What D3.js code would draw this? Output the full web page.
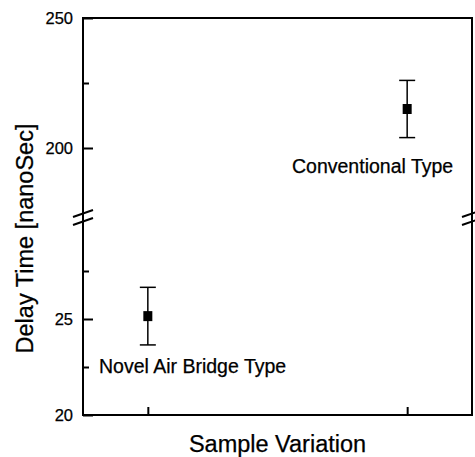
<!DOCTYPE html>
<html lang="en">
<head>
    <meta charset="utf8">
    <title>Delay Time</title>
    <script src="https://d3js.org/d3.v7.min.js"></script>
    <style>
        body { margin: 0; background: #fff; }
        svg { display: block; font-family: "Liberation Sans", Arial, sans-serif; }
        text { stroke: #000; stroke-width: 0.25px; }
    </style>
</head>
<body>
    <svg id="chart" width="475" height="457"></svg>
    <script>
        // data
        const samples = ["Novel Air Bridge Type", "Conventional Type"];
        const samplePos = [1, 2];
        const delay = [25.15, 215];
        const delayErr = [1.5, 11];
        const upperTicks = [200, 250];
        const upperMinor = [225];
        const lowerTicks = [20, 25];
        const lowerMinor = [22.5, 27.5];

        const svg = d3.select("#chart");
        const mLeft = 83, mRight = 472, mTop = 18, mBottom = 415;
        const breakTop = 213, breakBottom = 223;

        const x = d3.scaleLinear().domain([0.75, 2.25]).range([mLeft, mRight]);
        const yUp = d3.scaleLinear().domain([175, 250]).range([breakTop, mTop]);
        const yLow = d3.scaleLinear().domain([20, 30]).range([mBottom, breakBottom]);
        const y = v => v > 100 ? yUp(v) : yLow(v);

        // frame
        svg.append("rect")
           .attr("x", mLeft).attr("y", mTop)
           .attr("width", mRight - mLeft).attr("height", mBottom - mTop)
           .attr("fill", "none").attr("stroke", "#000").attr("stroke-width", 2);

        function yAxis(scale, ticks, minor) {
            const g = svg.append("g").attr("transform", `translate(${mLeft},0)`);
            g.call(d3.axisLeft(scale).tickValues(ticks).tickSizeInner(-10).tickSizeOuter(0).tickPadding(10));
            g.select(".domain").remove();
            g.selectAll(".tick line").attr("stroke-width", 2);
            g.selectAll(".tick text").attr("font-size", 16.5).attr("fill", "#000");
            const m = svg.append("g").attr("transform", `translate(${mLeft},0)`);
            m.call(d3.axisLeft(scale).tickValues(minor).tickSizeInner(-6).tickSizeOuter(0).tickFormat(""));
            m.select(".domain").remove();
            m.selectAll(".tick line").attr("stroke-width", 2);
        }
        yAxis(yUp, upperTicks, upperMinor);
        yAxis(yLow, lowerTicks, lowerMinor);

        // bottom ticks
        const xg = svg.append("g").attr("transform", `translate(0,${mBottom})`);
        xg.call(d3.axisBottom(x).tickValues(samplePos).tickSizeInner(-8).tickSizeOuter(0).tickFormat(""));
        xg.select(".domain").remove();
        xg.selectAll(".tick line").attr("stroke-width", 2);

        // axis break marks
        [mLeft, mRight].forEach(ax => {
            [0, 8].forEach(off => {
                svg.append("line")
                   .attr("x1", ax - 10).attr("y1", breakBottom - 6 + off)
                   .attr("x2", ax + 10).attr("y2", breakTop - 3 + off)
                   .attr("stroke", "#000").attr("stroke-width", 2);
            });
        });

        // error bars
        const pts = svg.append("g");
        samplePos.forEach((p, i) => {
            const cx = x(p);
            const hi = y(delay[i] + delayErr[i]), lo = y(delay[i] - delayErr[i]);
            pts.append("line").attr("x1", cx).attr("x2", cx).attr("y1", hi).attr("y2", lo)
               .attr("stroke", "#000").attr("stroke-width", 1.5);
            [hi, lo].forEach(yy => {
                pts.append("line").attr("x1", cx - 8).attr("x2", cx + 8).attr("y1", yy).attr("y2", yy)
                   .attr("stroke", "#000").attr("stroke-width", 1.5);
            });
            pts.append("rect")
               .attr("x", cx - 4.5).attr("y", y(delay[i]) - 5)
               .attr("width", 9).attr("height", 10)
               .attr("fill", "#000");
        });

        // labels for the two samples
        svg.append("text").attr("x", 99).attr("y", 373)
           .attr("font-size", 19.5).text(samples[0]);
        svg.append("text").attr("x", 292).attr("y", 173)
           .attr("font-size", 19.5).text(samples[1]);

        // axis titles
        svg.append("text")
           .attr("transform", `translate(33,${(mTop + mBottom) / 2 + 22}) rotate(-90)`)
           .attr("text-anchor", "middle").attr("font-size", 23.5)
           .text("Delay Time [nanoSec]");
        svg.append("text")
           .attr("x", (mLeft + mRight) / 2).attr("y", 452)
           .attr("text-anchor", "middle").attr("font-size", 23.5)
           .text("Sample Variation");
    </script>
</body>
</html>
